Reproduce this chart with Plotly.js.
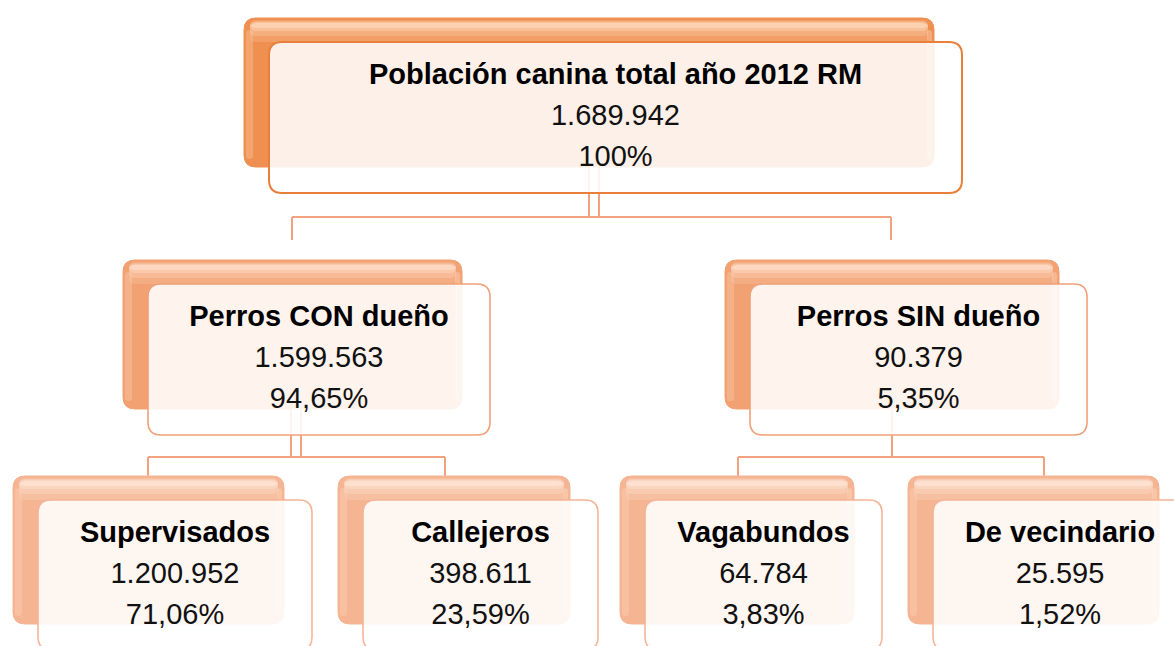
<!DOCTYPE html>
<html>
<head>
<meta charset="utf-8">
<script src="https://cdn.plot.ly/plotly-3.0.1.min.js"></script>
<style>html,body{margin:0;padding:0;background:#fff;}#chart{width:1174px;height:646px;}</style>
</head>
<body>
<div id="chart"></div>
<script>
// ---- data ----
var names = ["Población canina total año 2012 RM", "Perros CON dueño", "Perros SIN dueño",
             "Supervisados", "Callejeros", "Vagabundos", "De vecindario"];
var counts = [1689942, 1599563, 90379, 1200952, 398611, 64784, 25595];
var percents = [100, 94.65, 5.35, 71.06, 23.59, 3.83, 1.52];
var parents = [-1, 0, 0, 1, 1, 2, 2];
var levels = [0, 1, 1, 2, 2, 2, 2];

// ---- layout geometry (pixels) ----
var frontX0 = [269, 148, 750, 38, 363, 645, 933];
var frontX1 = [962, 490, 1087, 312, 598, 882, 1187];
var levelTop = [42, 284, 500];
var levelH = [151, 151, 150];
var backDX = -25, backDY = -24, backDW = -3, backDH = -2;
var linkX = [594, 296, 892];          // drop line x under each parent (indexed by parent)
var linkDouble = [true, true, false];
var barY = [217, 457, 457];           // horizontal bar y under each parent
var childLinkX = [null, 292, 891, 148, 445, 738, 1044];
var childLinkEnd = [null, 240, 480];
var textOffsets = [35, 76, 117];

// styles per level
var backFill = ["#EF8F50", "#F2A272", "#F5B593"];
var backHi = ["255,226,204", "255,230,212", "255,236,222"];
var frontLine = ["#E8803C", "#F0A078", "#F4B497"];
var linkColor = "#F2A27E";

function fmtNum(n) {
  var s = String(n), out = "";
  while (s.length > 3) { out = "." + s.slice(-3) + out; s = s.slice(0, -3); }
  return s + out;
}
function fmtPct(p) {
  var s = (Math.round(p * 100) / 100).toString();
  if (s.indexOf(".") >= 0) { var parts = s.split("."); if (parts[1].length < 2) parts[1] += "0"; s = parts[0] + "," + parts[1]; }
  return s + "%";
}
function rr(x0, y0, x1, y1, r) {
  return "M" + (x0 + r) + "," + y0 + " L" + (x1 - r) + "," + y0 + " Q" + x1 + "," + y0 + " " + x1 + "," + (y0 + r) +
         " L" + x1 + "," + (y1 - r) + " Q" + x1 + "," + y1 + " " + (x1 - r) + "," + y1 +
         " L" + (x0 + r) + "," + y1 + " Q" + x0 + "," + y1 + " " + x0 + "," + (y1 - r) +
         " L" + x0 + "," + (y0 + r) + " Q" + x0 + "," + y0 + " " + (x0 + r) + "," + y0 + " Z";
}

var shapes = [];
function line(x0, y0, x1, y1, w) {
  shapes.push({type: "line", xref: "x", yref: "y", x0: x0, y0: y0, x1: x1, y1: y1, layer: "below",
               line: {color: linkColor, width: w || 2}});
}

// connectors
for (var p = 0; p < linkX.length; p++) {
  var kids = [];
  for (var i = 0; i < parents.length; i++) if (parents[i] === p) kids.push(i);
  var lv = levels[p];
  var dropTop = levelTop[lv] + backDY + levelH[lv] + backDH;
  var by = barY[p];
  if (linkDouble[p]) {
    line(linkX[p] - 5, dropTop, linkX[p] - 5, by, 2);
    line(linkX[p] + 5, dropTop, linkX[p] + 5, by, 2);
  } else {
    line(linkX[p], dropTop, linkX[p], by, 2);
  }
  var xs = kids.map(function (k) { return childLinkX[k]; });
  line(Math.min.apply(null, xs), by, Math.max.apply(null, xs), by, 2);
  kids.forEach(function (k) { line(childLinkX[k], by, childLinkX[k], childLinkEnd[levels[k]], 2); });
}

// boxes
for (var i = 0; i < names.length; i++) {
  var lv = levels[i];
  var fx0 = frontX0[i], fx1 = frontX1[i], fy0 = levelTop[lv], fy1 = levelTop[lv] + levelH[lv];
  var bx0 = fx0 + backDX, bx1 = fx1 + backDX + backDW, by0 = fy0 + backDY, by1 = fy1 + backDY + backDH;
  // back box
  shapes.push({type: "path", path: rr(bx0, by0, bx1, by1, 12), xref: "x", yref: "y", layer: "below",
               fillcolor: backFill[lv], line: {color: backFill[lv], width: 1}});
  // soft gradient on top (stacked translucent bands)
  var bands = [[2, 24, 0.18], [3, 18, 0.25], [4, 13, 0.35], [5, 10, 0.5]];
  bands.forEach(function (b) {
    shapes.push({type: "path", path: rr(bx0 + 6, by0 + b[0], bx1 - 6, by0 + b[1], 6), xref: "x", yref: "y", layer: "below",
                 fillcolor: "rgba(" + backHi[lv] + "," + b[2] + ")", line: {width: 0}});
  });
  // subtle left/right edge light
  shapes.push({type: "path", path: rr(bx0 + 2, by0 + 12, bx0 + 9, by1 - 8, 3), xref: "x", yref: "y", layer: "below",
               fillcolor: "rgba(255,220,195,0.28)", line: {width: 0}});
  shapes.push({type: "path", path: rr(bx1 - 7, by0 + 12, bx1 - 2, by1 - 8, 3), xref: "x", yref: "y", layer: "below",
               fillcolor: "rgba(255,225,205,0.35)", line: {width: 0}});
  // front box
  shapes.push({type: "path", path: rr(fx0, fy0, fx1, fy1, 13), xref: "x", yref: "y", layer: "below",
               fillcolor: "rgba(255,255,255,0.87)", line: {color: frontLine[lv], width: lv === 0 ? 2 : 1.6}});
}

// text positions derived from the boxes
var cx = [], ty = [], vy = [], py = [];
for (var i = 0; i < names.length; i++) {
  var lv = levels[i];
  cx.push((frontX0[i] + frontX1[i]) / 2);
  ty.push(levelTop[lv] + textOffsets[0]);
  vy.push(levelTop[lv] + textOffsets[1]);
  py.push(levelTop[lv] + textOffsets[2]);
}
var font = "Liberation Sans, Arial, sans-serif";
var traces = [
  {type: "scatter", mode: "text", x: cx, y: ty, text: names, hoverinfo: "skip", showlegend: false,
   textposition: "middle center", textfont: {family: font, size: 29, color: "#000", weight: "bold"}},
  {type: "scatter", mode: "text", x: cx, y: vy, text: counts.map(fmtNum), hoverinfo: "skip", showlegend: false,
   textposition: "middle center", textfont: {family: font, size: 29, color: "#111"}},
  {type: "scatter", mode: "text", x: cx, y: py, text: percents.map(fmtPct), hoverinfo: "skip", showlegend: false,
   textposition: "middle center", textfont: {family: font, size: 29, color: "#111"}}
];

var layout = {
  width: 1174, height: 646,
  margin: {l: 0, r: 0, t: 0, b: 0, pad: 0},
  paper_bgcolor: "#fff", plot_bgcolor: "#fff",
  xaxis: {range: [0, 1174], visible: false, fixedrange: true},
  yaxis: {range: [646, 0], visible: false, fixedrange: true},
  shapes: shapes,
  showlegend: false
};
Plotly.newPlot("chart", traces, layout, {displayModeBar: false, staticPlot: true});
</script>
</body>
</html>
